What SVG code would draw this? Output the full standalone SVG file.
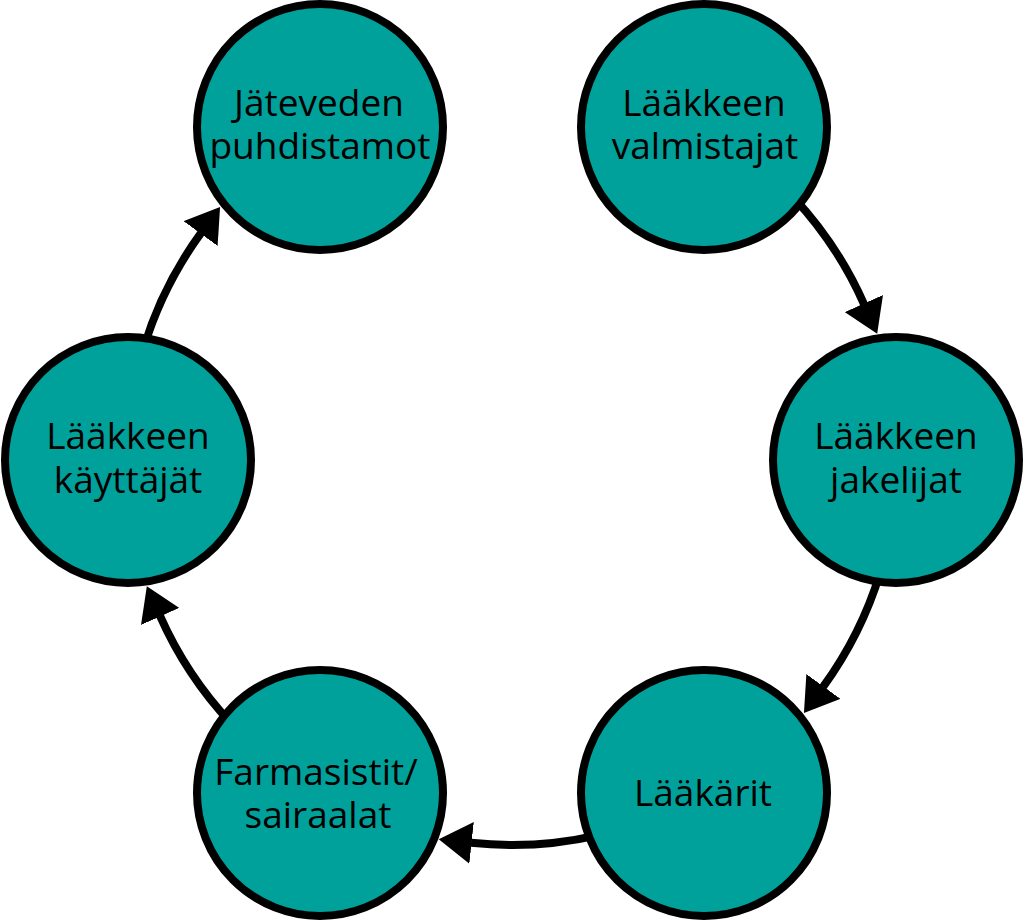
<svg xmlns="http://www.w3.org/2000/svg" width="1024" height="921" viewBox="0 0 1024 921">
<style>
.node{fill:#00A19A;stroke:#000;stroke-width:8}
.lbl{font-family:"Open Sans","Noto Sans","Liberation Sans",sans-serif;font-size:37px;fill:#000;text-anchor:middle}
.conn{fill:none;stroke:#000;stroke-width:8;marker-end:url(#ah)}
</style>
<defs>
<marker id="ah" markerUnits="userSpaceOnUse" viewBox="0 0 33 42" markerWidth="33" markerHeight="42" refX="0.5" refY="21" orient="auto">
<path d="M0,0 L33,21 L0,42 Z" fill="#000"/>
</marker>
</defs>
<rect width="1024" height="921" fill="#fff"/>
<g id="connectors">
<path class="conn" d="M793.57,197.43 A385,385 0 0 1 863.99,304.02"/>
<path class="conn" d="M880.18,572.56 A385,385 0 0 1 823.08,686.84"/>
<path class="conn" d="M598.61,835.13 A385,385 0 0 1 471.09,842.82"/>
<path class="conn" d="M230.43,722.57 A385,385 0 0 1 160.01,615.98"/>
<path class="conn" d="M143.82,347.44 A385,385 0 0 1 200.92,233.16"/>
</g>
<g id="node-jateveden">
<circle class="node" cx="320" cy="127" r="123"/>
<text class="lbl" x="319" y="116">Jäteveden</text>
<text class="lbl" x="320" y="159">puhdistamot</text>
</g>
<g id="node-valmistajat">
<circle class="node" cx="704" cy="127" r="123"/>
<text class="lbl" x="704" y="116">Lääkkeen</text>
<text class="lbl" x="705" y="159">valmistajat</text>
</g>
<g id="node-jakelijat">
<circle class="node" cx="896" cy="460" r="123"/>
<text class="lbl" x="896" y="449">Lääkkeen</text>
<text class="lbl" x="896" y="493">jakelijat</text>
</g>
<g id="node-laakarit">
<circle class="node" cx="704" cy="793" r="123"/>
<text class="lbl" x="703" y="806">Lääkärit</text>
</g>
<g id="node-farmasistit">
<circle class="node" cx="320" cy="793" r="123"/>
<text class="lbl" x="316" y="785">Farmasistit/</text>
<text class="lbl" x="318" y="828">sairaalat</text>
</g>
<g id="node-kayttajat">
<circle class="node" cx="128" cy="460" r="123"/>
<text class="lbl" x="128" y="449">Lääkkeen</text>
<text class="lbl" x="128" y="493">käyttäjät</text>
</g>
</svg>
